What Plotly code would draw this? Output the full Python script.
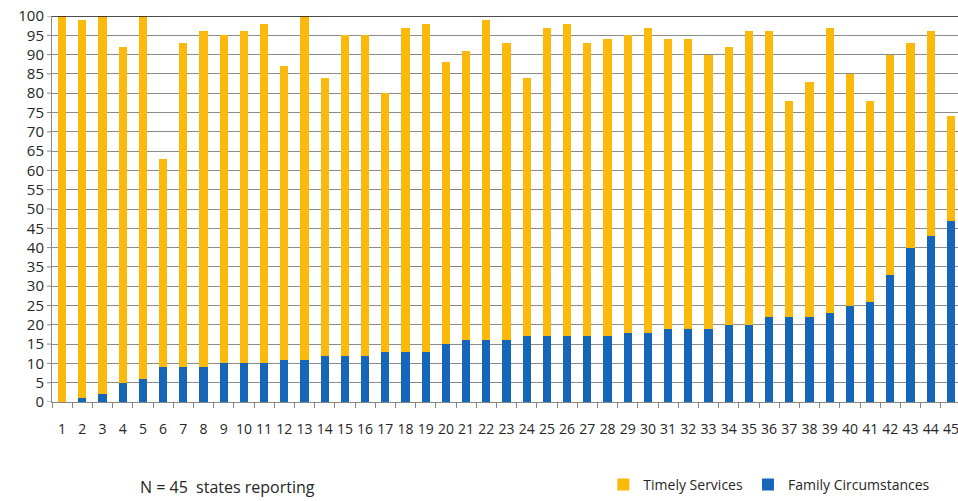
import plotly.graph_objects as go

states = [str(i) for i in range(1, 46)]
total = [100, 99, 100, 92, 100, 63, 93, 96, 95, 96, 98, 87, 100, 84, 95,
         95, 80, 97, 98, 88, 91, 99, 93, 84, 97, 98, 93, 94, 95, 97,
         94, 94, 90, 92, 96, 96, 78, 83, 97, 85, 78, 90, 93, 96, 74]
family = [0, 1, 2, 5, 6, 9, 9, 9, 10, 10, 10, 11, 11, 12, 12,
          12, 13, 13, 13, 15, 16, 16, 16, 17, 17, 17, 17, 17, 18, 18,
          19, 19, 19, 20, 20, 22, 22, 22, 23, 25, 26, 33, 40, 43, 47]
timely = [t - f for t, f in zip(total, family)]
y_ticks = list(range(0, 101, 5))

YELLOW = "#FBBA0B"
BLUE = "#1565B8"
FONT = "Open Sans"
TXT = "#262626"
AX = "#868686"

fig = go.Figure()
fig.add_trace(go.Bar(x=states, y=family, name="Family Circumstances",
                     marker=dict(color=BLUE, line=dict(width=0)), legendrank=2))
fig.add_trace(go.Bar(x=states, y=timely, name="Timely Services",
                     marker=dict(color=YELLOW, line=dict(width=0)), legendrank=1))

# y-axis outward tick marks
tick_shapes = [dict(type="line", xref="paper", yref="y", x0=-5 / 906, x1=0, y0=v, y1=v,
                    line=dict(color=AX, width=1)) for v in y_ticks]

fig.update_layout(
    width=958, height=501,
    barmode="stack", bargap=0.59,
    paper_bgcolor="white", plot_bgcolor="white",
    margin=dict(l=52, r=0, t=16, b=98),
    font=dict(family=FONT, size=14, color=TXT),
    showlegend=True,
    legend=dict(orientation="h", x=0.975, xanchor="right", y=-0.258, yanchor="bottom",
                font=dict(size=14, color=TXT), itemwidth=30,
                traceorder="normal", bgcolor="rgba(0,0,0,0)"),
    xaxis=dict(type="category", range=[-0.5, 44.35], showgrid=False,
               showline=True, linecolor=AX, linewidth=1,
               ticks="outside", ticklen=5, tickcolor=AX, tickson="boundaries",
               tickfont=dict(size=14, color=TXT), ticklabelstandoff=14,
               tickangle=0, fixedrange=True),
    yaxis=dict(range=[0, 100], tickvals=y_ticks, showgrid=True, gridcolor="#8c8c8c",
               gridwidth=1, showline=True, linecolor=AX, linewidth=1,
               ticks="", ticklabelstandoff=4,
               tickfont=dict(size=15, color=TXT), zeroline=False, fixedrange=True),
    annotations=[dict(text="N = 45  states reporting", xref="paper", yref="paper",
                      x=0.095, y=-0.221, xanchor="left", yanchor="middle",
                      showarrow=False, font=dict(size=16, color=TXT))],
    shapes=tick_shapes + [dict(type="line", xref="paper", yref="y", x0=0, x1=1, y0=100, y1=100,
                               line=dict(color="#111111", width=1.5), layer="above")],
)

fig.write_html("out.html")
